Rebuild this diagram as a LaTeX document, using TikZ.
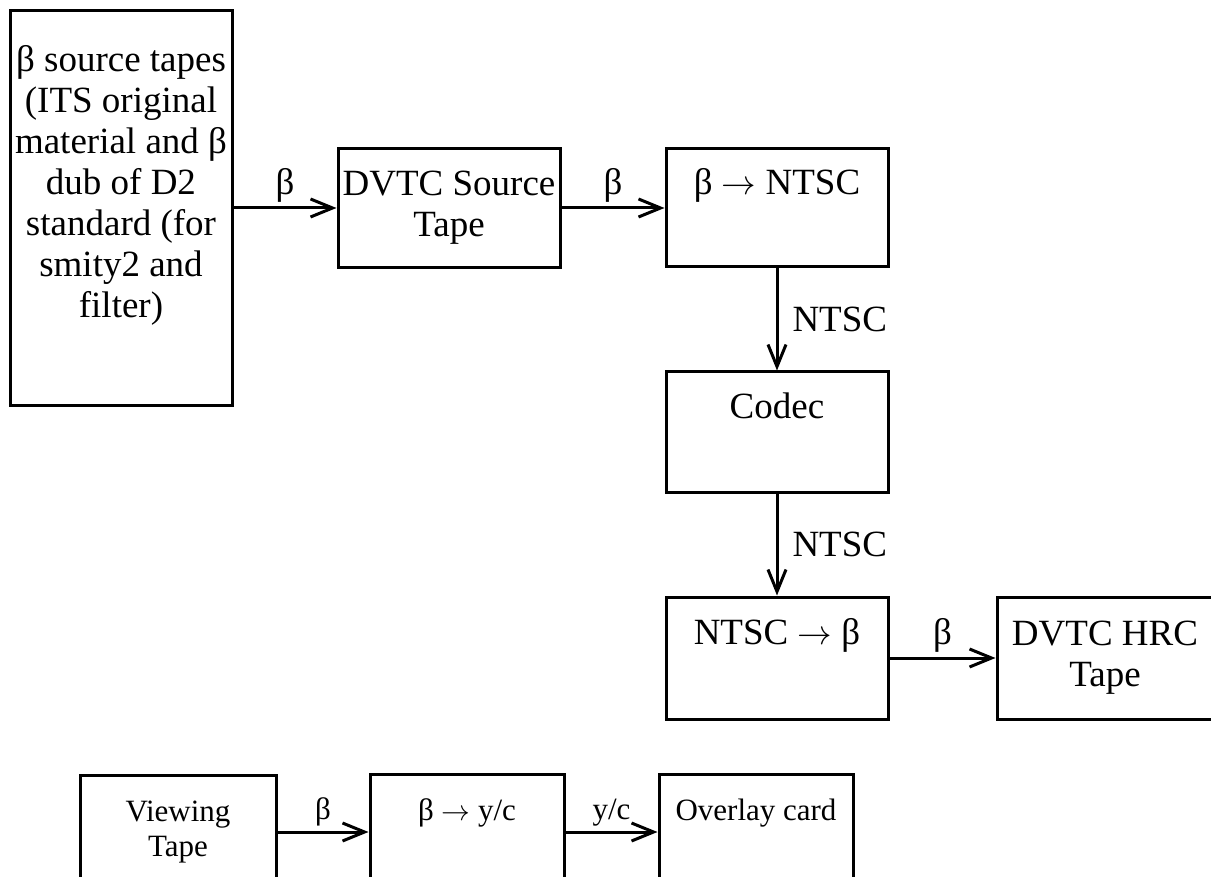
\documentclass[tikz,border=0pt]{standalone}
\usepackage{fontspec}
\setmainfont{Liberation Serif}
\usetikzlibrary{arrows.meta}

\begin{document}
\begin{tikzpicture}[
    x=0.5pt,y=-0.5pt,
    font=\fontsize{18.5pt}{20.5pt}\selectfont,
    box/.style={draw,line width=1.5pt,align=center,inner sep=0pt},
    small/.style={font=\fontsize{15.5pt}{17.5pt}\selectfont},
    arrow/.style={-{Straight Barb[length=11pt,width=9pt]},line width=1.5pt},
    lbl/.style={inner sep=2pt}
  ]
  \clip (0,0) rectangle (1211,877);

  \node[box,minimum width=111pt,minimum height=197.5pt] (src) at (121,208)
    {β source tapes\\(ITS original\\material and β\\dub of D2\\standard (for\\smity2 and\\filter)\\\strut};
  \node[box,minimum width=111pt,minimum height=59.5pt] (dsrc) at (449,208) {DVTC Source\\Tape};
  \node[box,minimum width=111pt,minimum height=59pt] (b2n) at (777,208) {β $\rightarrow$ NTSC\\\strut};
  \node[box,minimum width=111pt,minimum height=60pt] (codec) at (777,432) {Codec\\\strut};
  \node[box,minimum width=111pt,minimum height=61pt] (n2b) at (777,658) {NTSC $\rightarrow$ β\\\strut};
  \node[box,minimum width=108pt,minimum height=61pt] (hrc) at (1105,658) {DVTC HRC\\Tape};

  \draw[arrow] (src) -- node[lbl,above] {β} (dsrc);
  \draw[arrow] (dsrc) -- node[lbl,above] {β} (b2n);
  \draw[arrow] (b2n) -- node[lbl,right=5pt] {NTSC} (codec);
  \draw[arrow] (codec) -- node[lbl,right=5pt] {NTSC} (n2b);
  \draw[arrow] (n2b) -- node[lbl,above] {β} (hrc);

  \begin{scope}[small]
    \node[box,minimum width=98pt,minimum height=57pt] (view) at (178,832) {Viewing\\Tape};
    \node[box,minimum width=97pt,minimum height=58pt] (b2y) at (467,832) {β $\rightarrow$ y/c\\\strut};
    \node[box,minimum width=97pt,minimum height=58pt] (ovl) at (756,832) {Overlay card\\\strut};
    \draw[arrow] (view) -- node[lbl,above] {β} (b2y);
    \draw[arrow] (b2y) -- node[lbl,above] {y/c} (ovl);
  \end{scope}
\end{tikzpicture}
\end{document}
